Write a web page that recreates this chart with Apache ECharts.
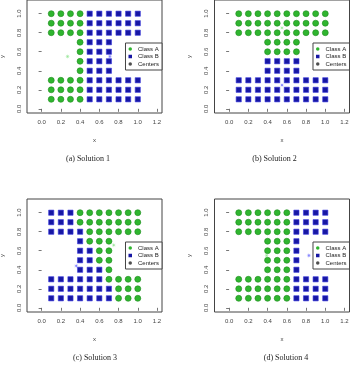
<!DOCTYPE html>
<html><head><meta charset="utf-8">
<script src="https://cdn.jsdelivr.net/npm/echarts@6/dist/echarts.min.js"></script>
<style>html,body{margin:0;padding:0;background:#fff}#c{width:354px;height:365px}</style>
</head><body><div id="c"></div><script>
const xTicks = [0.0, 0.2, 0.4, 0.6, 0.8, 1.0, 1.2];
const yTicks = [0.0, 0.2, 0.4, 0.6, 0.8, 1.0];
const captions = ['(a) Solution 1', '(b) Solution 2', '(c) Solution 3', '(d) Solution 4'];
const legendNames = ['Class A', 'Class B', 'Centers'];

// Each row: [y, [x values of points in that row]]
const sol1A = [[1.0,[0.1,0.2,0.3,0.4]],[0.9,[0.1,0.2,0.3,0.4]],[0.8,[0.1,0.2,0.3,0.4]],
  [0.7,[0.4]],[0.6,[0.4]],[0.5,[0.4]],[0.4,[0.4]],
  [0.3,[0.1,0.2,0.3,0.4]],[0.2,[0.1,0.2,0.3,0.4]],[0.1,[0.1,0.2,0.3,0.4]]];
const sol1B = [[1.0,[0.5,0.6,0.7,0.8,0.9,1.0]],[0.9,[0.5,0.6,0.7,0.8,0.9,1.0]],[0.8,[0.5,0.6,0.7,0.8,0.9,1.0]],
  [0.7,[0.5,0.6,0.7]],[0.6,[0.5,0.6,0.7]],[0.5,[0.5,0.6,0.7]],[0.4,[0.5,0.6,0.7]],
  [0.3,[0.5,0.6,0.7,0.8,0.9,1.0]],[0.2,[0.5,0.6,0.7,0.8,0.9,1.0]],[0.1,[0.5,0.6,0.7,0.8,0.9,1.0]]];
const sol1Centers = [[0.27,0.55],[0.71,0.55]];

const sol2A = [[1.0,[0.1,0.2,0.3,0.4,0.5,0.6,0.7,0.8,0.9,1.0]],[0.9,[0.1,0.2,0.3,0.4,0.5,0.6,0.7,0.8,0.9,1.0]],
  [0.8,[0.1,0.2,0.3,0.4,0.5,0.6,0.7,0.8,0.9,1.0]],[0.7,[0.4,0.5,0.6,0.7]],[0.6,[0.4,0.5,0.6,0.7]]];
const sol2B = [[0.5,[0.4,0.5,0.6,0.7]],[0.4,[0.4,0.5,0.6,0.7]],
  [0.3,[0.1,0.2,0.3,0.4,0.5,0.6,0.7,0.8,0.9,1.0]],[0.2,[0.1,0.2,0.3,0.4,0.5,0.6,0.7,0.8,0.9,1.0]],
  [0.1,[0.1,0.2,0.3,0.4,0.5,0.6,0.7,0.8,0.9,1.0]]];
const sol2Centers = [[0.55,0.85],[0.55,0.25]];

const sol3A = [[1.0,[0.4,0.5,0.6,0.7,0.8,0.9,1.0]],[0.9,[0.4,0.5,0.6,0.7,0.8,0.9,1.0]],[0.8,[0.5,0.6,0.7,0.8,0.9,1.0]],
  [0.7,[0.5,0.6,0.7]],[0.6,[0.6,0.7]],[0.5,[0.6,0.7]],[0.4,[0.7]],
  [0.3,[0.7,0.8,0.9,1.0]],[0.2,[0.8,0.9,1.0]],[0.1,[0.8,0.9,1.0]]];
const sol3B = [[1.0,[0.1,0.2,0.3]],[0.9,[0.1,0.2,0.3]],[0.8,[0.1,0.2,0.3,0.4]],
  [0.7,[0.4]],[0.6,[0.4,0.5]],[0.5,[0.4,0.5]],[0.4,[0.4,0.5,0.6]],
  [0.3,[0.1,0.2,0.3,0.4,0.5,0.6]],[0.2,[0.1,0.2,0.3,0.4,0.5,0.6,0.7]],[0.1,[0.1,0.2,0.3,0.4,0.5,0.6,0.7]]];
const sol3Centers = [[0.75,0.66],[0.36,0.44]];

const sol4A = [[1.0,[0.1,0.2,0.3,0.4,0.5,0.6]],[0.9,[0.1,0.2,0.3,0.4,0.5,0.6]],[0.8,[0.1,0.2,0.3,0.4,0.5,0.6]],
  [0.7,[0.4,0.5,0.6]],[0.6,[0.4,0.5,0.6]],[0.5,[0.4,0.5,0.6]],[0.4,[0.4,0.5,0.6]],
  [0.3,[0.1,0.2,0.3,0.4,0.5,0.6]],[0.2,[0.1,0.2,0.3,0.4,0.5,0.6]],[0.1,[0.1,0.2,0.3,0.4,0.5,0.6]]];
const sol4B = [[1.0,[0.7,0.8,0.9,1.0]],[0.9,[0.7,0.8,0.9,1.0]],[0.8,[0.7,0.8,0.9,1.0]],
  [0.7,[0.7]],[0.6,[0.7]],[0.5,[0.7]],[0.4,[0.7]],
  [0.3,[0.7,0.8,0.9,1.0]],[0.2,[0.7,0.8,0.9,1.0]],[0.1,[0.7,0.8,0.9,1.0]]];
const sol4Centers = [[0.39,0.55],[0.83,0.55]];

const solutions = [
  {A: sol1A, B: sol1B, C: sol1Centers},
  {A: sol2A, B: sol2B, C: sol2Centers},
  {A: sol3A, B: sol3B, C: sol3Centers},
  {A: sol4A, B: sol4B, C: sol4Centers}
];

function rowsToPoints(rows) {
  const out = [];
  rows.forEach(([y, xs]) => xs.forEach(x => out.push([x, y])));
  return out;
}

// asterisk-like star symbol
let starPath = 'path://';
for (let i = 0; i < 16; i++) {
  const a = i * Math.PI / 8 - Math.PI / 2;
  const r = i % 2 ? 0.28 : 1;
  starPath += (i ? 'L' : 'M') + (r * Math.cos(a)).toFixed(3) + ' ' + (r * Math.sin(a)).toFixed(3) + ' ';
}
starPath += 'Z';

const GREEN = '#2fb52f', GREEN_EDGE = '#1d8c1d';
const BLUE = '#1717a3', BLUE_EDGE = '#3b3bdf';
const lefts = [27, 214.5, 27, 214.5];
const tops = [0, 0, 199, 199];
const W = 135, H = 113;
const capPos = [[88, 159], [274.5, 159], [95, 358], [286, 358]];

const grid = [], xAxis = [], yAxis = [], series = [], legend = [], graphic = [];
const axisFont = {fontSize: 6, color: '#444', fontFamily: 'Liberation Sans, Arial, sans-serif'};

solutions.forEach((s, i) => {
  grid.push({left: lefts[i], top: tops[i], width: W, height: H, show: true,
    borderColor: '#444', borderWidth: 1, backgroundColor: 'transparent',
    containLabel: false, outerBoundsMode: 'none'});
  xAxis.push({type: 'value', gridIndex: i, min: -0.152, max: 1.252,
    name: 'x', nameLocation: 'middle', nameGap: 24,
    nameTextStyle: {fontSize: 6, color: '#444', fontFamily: 'Liberation Sans, Arial, sans-serif'},
    axisLine: {show: false}, splitLine: {show: false},
    axisTick: {show: true, inside: false, length: 3, lineStyle: {color: '#555', width: 0.8}, customValues: xTicks},
    axisLabel: Object.assign({margin: 6, customValues: xTicks, formatter: v => v.toFixed(1)}, axisFont)});
  yAxis.push({type: 'value', gridIndex: i, min: -0.044, max: 1.144,
    name: 'y', nameLocation: 'middle', nameGap: 22, nameRotate: 90,
    nameTextStyle: {fontSize: 6, color: '#444', fontFamily: 'Liberation Sans, Arial, sans-serif'},
    axisLine: {show: false}, splitLine: {show: false},
    axisTick: {show: true, inside: false, length: 3, lineStyle: {color: '#555', width: 0.8}, customValues: yTicks},
    axisLabel: Object.assign({margin: 5, rotate: 90, customValues: yTicks, formatter: v => v.toFixed(1)}, axisFont)});
  series.push({type: 'scatter', name: 'Class A', xAxisIndex: i, yAxisIndex: i,
    symbol: 'circle', symbolSize: 6, data: rowsToPoints(s.A),
    itemStyle: {color: GREEN, borderColor: GREEN_EDGE, borderWidth: 0.6, opacity: 1}, z: 2});
  series.push({type: 'scatter', name: 'Class B', xAxisIndex: i, yAxisIndex: i,
    symbol: 'rect', symbolSize: 5.2, data: rowsToPoints(s.B),
    itemStyle: {color: BLUE, borderColor: BLUE_EDGE, borderWidth: 0.6, opacity: 1}, z: 2});
  series.push({type: 'scatter', name: 'Centers', xAxisIndex: i, yAxisIndex: i,
    symbol: starPath, symbolSize: 5,
    data: [{value: s.C[0], itemStyle: {color: '#7ee07e'}}, {value: s.C[1], itemStyle: {color: '#5a5aff'}}],
    itemStyle: {color: '#111'}, z: 3});
  legend.push({orient: 'vertical', right: 354 - (lefts[i] + W), top: tops[i] + 43,
    backgroundColor: '#fff', borderColor: '#444', borderWidth: 1, borderRadius: 0,
    padding: [3, 3, 3, 3], itemGap: 1.5, itemWidth: 3.5, itemHeight: 3.5,
    textStyle: {fontSize: 6, color: '#222', fontFamily: 'Liberation Sans, Arial, sans-serif', padding: [0, 0, 0, 1]},
    selectedMode: false,
    data: [
      {name: 'Class A', icon: 'circle', itemStyle: {color: GREEN, borderWidth: 0}},
      {name: 'Class B', icon: 'rect', itemStyle: {color: BLUE, borderWidth: 0}},
      {name: 'Centers', icon: 'circle', itemStyle: {color: '#222', borderWidth: 0}}
    ]});
  graphic.push({type: 'text', x: capPos[i][0], y: capPos[i][1],
    style: {text: captions[i], fontSize: 8, fill: '#222', fontFamily: 'Liberation Serif, Times New Roman, serif',
      align: 'center', verticalAlign: 'middle'}});
});

const chart = echarts.init(document.getElementById('c'), null, {renderer: 'canvas'});
chart.setOption({animation: false, backgroundColor: '#fff', grid, xAxis, yAxis, series, legend, graphic});
</script></body></html>
